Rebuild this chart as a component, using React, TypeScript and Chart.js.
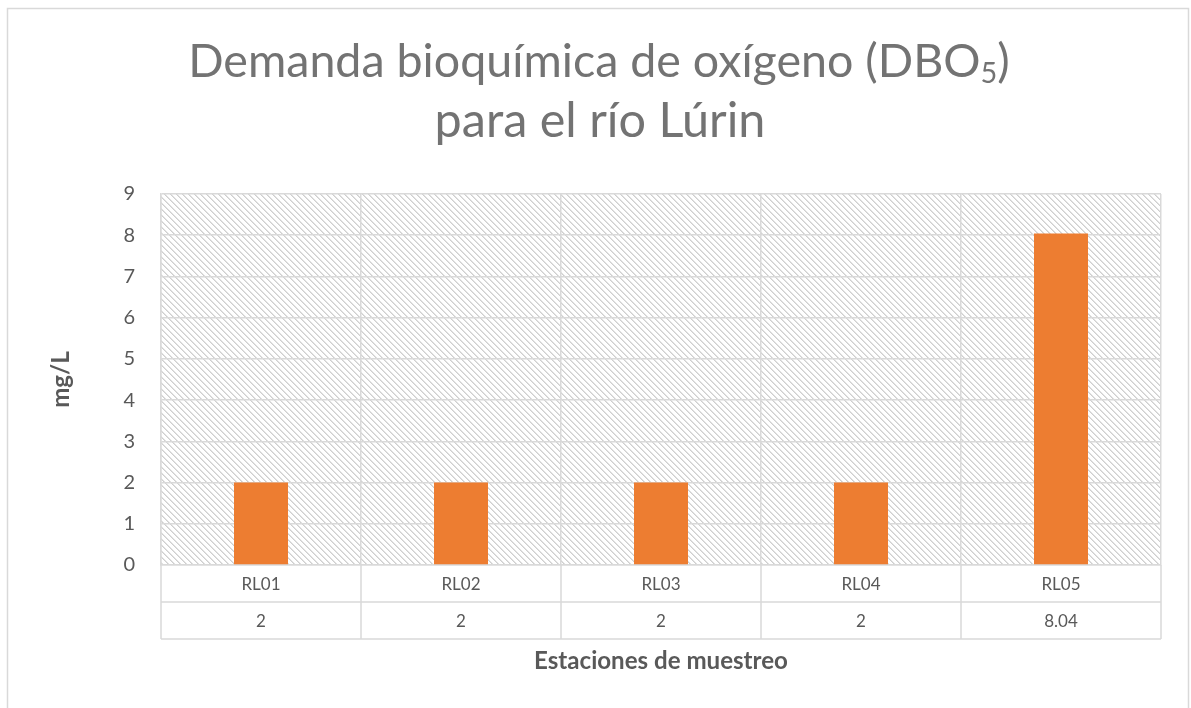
import { useEffect, useRef } from 'react';
import { Chart, registerables } from 'chart.js';
Chart.register(...registerables);

// ---- data ----
const categories = ['RL01', 'RL02', 'RL03', 'RL04', 'RL05'];
const values = [2, 2, 2, 2, 8.04];
const tableValues = ['2', '2', '2', '2', '8.04'];
const yMin = 0;
const yMax = 9;
const yStep = 1;
const titleLine1 = ['Demanda bioquímica de oxígeno (DBO', '5', ')'];
const titleLine2 = 'para el río Lúrin';
const yTitle = 'mg/L';
const xTitle = 'Estaciones de muestreo';

// ---- style ----
const W = 1191;
const H = 708;
const FONT = 'Lato, "Open Sans", sans-serif';
const GRID = '#d9d9d9';
const TEXT = '#595959';
const TITLE = '#737373';
const BAR = '#ED7D31';
const ROW = 37;

function makeHatch(ctx: CanvasRenderingContext2D): CanvasPattern | string {
  const s = 6;
  const c = document.createElement('canvas');
  c.width = s;
  c.height = s;
  const g = c.getContext('2d');
  if (!g) return '#eee';
  g.fillStyle = '#ffffff';
  g.fillRect(0, 0, s, s);
  for (let i = 0; i < s; i++) {
    g.fillStyle = '#cfcfcf';
    g.fillRect(i, i, 1, 1);
    g.fillStyle = '#e2e2e2';
    g.fillRect((i + 1) % s, i, 1, 1);
  }
  return ctx.createPattern(c, 'repeat') || '#eee';
}

function fitSize(ctx: CanvasRenderingContext2D, text: string, weight: string, target: number, base: number) {
  ctx.font = `${weight} ${base}px ${FONT}`;
  const w = ctx.measureText(text).width;
  return base * (target / w);
}

const decor = {
  id: 'decor',
  beforeDraw(chart: any) {
    const { ctx, chartArea: a } = chart;
    ctx.save();
    ctx.fillStyle = '#ffffff';
    ctx.fillRect(0, 0, W, H);
    ctx.strokeStyle = GRID;
    ctx.lineWidth = 1.5;
    ctx.strokeRect(7.5, 8.5, 1181, 760);
    ctx.fillStyle = makeHatch(ctx);
    ctx.fillRect(a.left, a.top, a.right - a.left, a.bottom - a.top);

    // title
    ctx.fillStyle = TITLE;
    ctx.textBaseline = 'alphabetic';
    ctx.textAlign = 'left';
    const full = titleLine1.join('');
    const size = fitSize(ctx, full, '400', 832, 44);
    const subSize = size * 0.62;
    ctx.font = `400 ${size}px ${FONT}`;
    const w0 = ctx.measureText(titleLine1[0]).width;
    const w2 = ctx.measureText(titleLine1[2]).width;
    ctx.font = `400 ${subSize}px ${FONT}`;
    const w1 = ctx.measureText(titleLine1[1]).width;
    const total = w0 + w1 + w2;
    let x = 599 - total / 2;
    const base1 = 77;
    ctx.font = `400 ${size}px ${FONT}`;
    ctx.fillText(titleLine1[0], x, base1);
    x += w0;
    ctx.font = `400 ${subSize}px ${FONT}`;
    ctx.fillText(titleLine1[1], x, base1 + size * 0.12);
    x += w1;
    ctx.font = `400 ${size}px ${FONT}`;
    ctx.fillText(titleLine1[2], x, base1);
    const size2 = fitSize(ctx, titleLine2, '400', 331, 44);
    ctx.font = `400 ${size2}px ${FONT}`;
    ctx.textAlign = 'center';
    ctx.fillText(titleLine2, 600, 137);
    ctx.restore();
  },
  afterDraw(chart: any) {
    const { ctx, chartArea: a } = chart;
    const xs = chart.scales.x;
    const n = categories.length;
    const cw = (a.right - a.left) / n;
    ctx.save();
    ctx.strokeStyle = GRID;
    ctx.lineWidth = 1.5;
    ctx.beginPath();
    for (let r = 1; r <= 2; r++) {
      ctx.moveTo(a.left, a.bottom + ROW * r);
      ctx.lineTo(a.right, a.bottom + ROW * r);
    }
    for (let i = 0; i <= n; i++) {
      const bx = a.left + cw * i;
      ctx.moveTo(bx, a.bottom);
      ctx.lineTo(bx, a.bottom + ROW * 2);
    }
    ctx.stroke();

    ctx.fillStyle = TEXT;
    ctx.textAlign = 'center';
    ctx.textBaseline = 'middle';
    ctx.font = `400 17px ${FONT}`;
    for (let i = 0; i < n; i++) {
      const cx = xs.getPixelForValue(i);
      ctx.fillText(categories[i], cx, a.bottom + ROW * 0.5 + 1);
      ctx.fillText(tableValues[i], cx, a.bottom + ROW * 1.5 + 1);
    }

    // axis titles
    const xs2 = fitSize(ctx, xTitle, '700', 254, 20);
    ctx.font = `700 ${xs2}px ${FONT}`;
    ctx.fillText(xTitle, (a.left + a.right) / 2, 661);
    ctx.translate(61, (a.top + a.bottom) / 2);
    ctx.rotate(-Math.PI / 2);
    ctx.font = `700 ${xs2}px ${FONT}`;
    ctx.fillText(yTitle, 0, 0);
    ctx.restore();
  },
};

export default function App() {
  const ref = useRef<HTMLCanvasElement | null>(null);
  useEffect(() => {
    if (!ref.current) return;
    const chart = new Chart(ref.current, {
      type: 'bar',
      data: {
        labels: categories,
        datasets: [
          {
            data: values,
            backgroundColor: BAR,
            borderWidth: 0,
            barPercentage: 0.27,
            categoryPercentage: 1,
          },
        ],
      },
      options: {
        responsive: false,
        animation: false,
        layout: { padding: { top: 194, left: 0, right: 30, bottom: H - 565 - ROW * 2 } },
        plugins: { legend: { display: false }, tooltip: { enabled: false }, title: { display: false } },
        scales: {
          x: {
            offset: true,
            grid: { offset: true, color: GRID, lineWidth: 1.5, drawTicks: false },
            border: { display: true, color: GRID, width: 1.5 },
            ticks: { display: false },
            afterFit: (s: any) => {
              s.height = ROW * 2;
            },
          },
          y: {
            min: yMin,
            max: yMax,
            ticks: { stepSize: yStep, color: TEXT, font: { family: FONT, size: 20 }, padding: 26 },
            grid: { color: GRID, lineWidth: 1.5, drawTicks: false },
            border: { display: true, color: GRID, width: 1.5 },
            afterFit: (s: any) => {
              s.width = 161;
            },
          },
        },
      },
      plugins: [decor],
    });
    return () => chart.destroy();
  }, []);
  return (
    <div style={{ position: 'absolute', left: 0, top: 0, width: W, height: H }}>
      <canvas ref={ref} width={W} height={H} />
    </div>
  );
}
